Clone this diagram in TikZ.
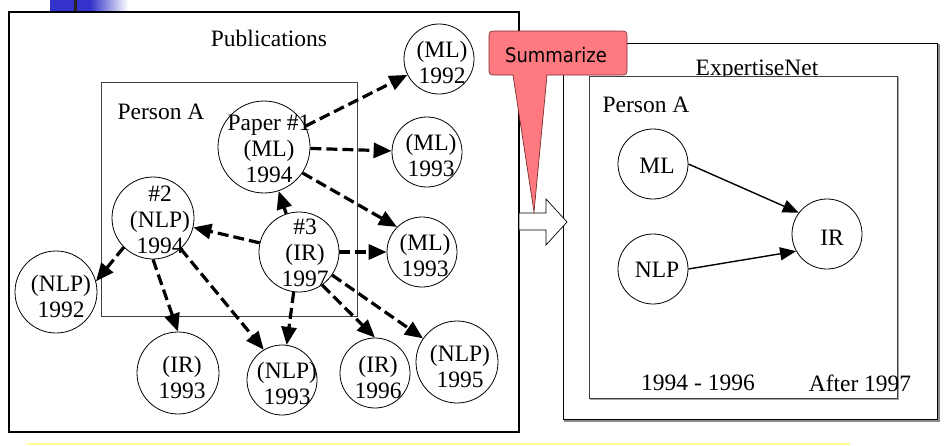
\documentclass[tikz,border=0pt]{standalone}
\usepackage{fontspec}
\setmainfont{Liberation Serif}
\newfontfamily\calloutfont[FakeStretch=0.9]{DejaVu Sans}
\usetikzlibrary{arrows.meta}

\definecolor{slideblue}{RGB}{51,51,204}
\definecolor{calloutred}{RGB}{255,122,128}
\definecolor{calloutedge}{RGB}{120,45,45}
\definecolor{noteyellow}{RGB}{255,255,150}

\tikzset{
  pub/.style={circle, draw, line width=0.8pt, inner sep=0pt},
  lbl/.style={align=center, inner sep=0pt, font=\fontsize{23.5}{26}\selectfont},
  cites/.style={line width=3.2pt, dash pattern=on 11pt off 5pt,
    -{Triangle[length=18pt,width=15pt]}},
  trend/.style={line width=1.4pt, -{Triangle[length=16pt,width=13pt]}},
  frame/.style={line width=0.8pt, draw=black!75},
}

\begin{document}
\begin{tikzpicture}[x=1pt,y=-1pt]
\useasboundingbox (0,0) rectangle (947,445);

% slide header ornament
\fill[slideblue] (50,0) rectangle (90,11);
\shade[left color=slideblue, right color=white] (90,0) rectangle (128,11);
\fill[black!85] (74,0) rectangle (77,12);

% publications panel
\draw[line width=2pt] (9,12) rectangle (519,432);
\node[lbl] (pubtitle) at (269,38) {Publications};
\draw[frame] (101,82) rectangle (357,316);
\node[lbl] (personl) at (161,112) {Person A};

% paper circles
\node[pub, minimum size=92pt] (p1) at (264,147) {};
\node[pub, minimum size=70pt] (m92) at (439,59) {};
\node[pub, minimum size=70pt] (m93a) at (427,152) {};
\node[pub, minimum size=70pt] (m93b) at (422,252) {};
\node[pub, minimum size=82pt] (p2) at (153,218) {};
\node[pub, minimum size=80pt] (p3) at (299,252) {};
\node[pub, minimum size=82pt] (n92) at (56,292) {};
\node[pub, minimum size=82pt] (ir93) at (178,373) {};
\node[pub, minimum size=70pt] (n93) at (282,380) {};
\node[pub, minimum size=70pt] (ir96) at (375,373) {};
\node[pub, minimum size=82pt] (n95) at (457,362) {};

\node[lbl] (p1t) at (269,149) {Paper \#1\\(ML)\\1994};
\node[lbl] (m92t) at (442,62) {(ML)\\1992};
\node[lbl] (m93at) at (431,155) {(ML)\\1993};
\node[lbl] (m93bt) at (425,255) {(ML)\\1993};
\node[lbl] (p2t) at (160,220) {\#2\\(NLP)\\1994};
\node[lbl] (p3t) at (305,253) {\#3\\(IR)\\1997};
\node[lbl] (n92t) at (61,296) {(NLP)\\1992};
\node[lbl] (ir93t) at (182,377) {(IR)\\1993};
\node[lbl] (n93t) at (287,383) {(NLP)\\1993};
\node[lbl] (ir96t) at (378,377) {(IR)\\1996};
\node[lbl] (n95t) at (460,366) {(NLP)\\1995};

% citation links
\draw[cites] (p1) -- (m92);
\draw[cites] (p1) -- (m93a);
\draw[cites] (p1.-34) -- (m93b.135);
\draw[cites] (p3) -- (p1);
\draw[cites] (p3) -- (p2);
\draw[cites] (p3) -- (m93b);
\draw[cites] (p3) -- (n93);
\draw[cites] (p3.-55) -- (ir96.north);
\draw[cites] (p3) -- (n95);
\draw[cites] (p2.-135) -- (n92.15);
\draw[cites] (p2.south) -- (ir93.north);
\draw[cites] (p2.-48) -- (n93.121);

% expertise panel
\draw[black!45, line width=1.2pt] (565,45) rectangle (939,421);
\draw[fill=white, line width=0.9pt] (563,43) rectangle (937,419);
\node[lbl, anchor=base] (nettitle) at (757,75) {ExpertiseNet};
\draw[black!35, line width=1pt] (590.5,77.5) rectangle (898.5,399.5);
\draw[frame, fill=white] (589,76) rectangle (897,398);
\node[lbl] (personr) at (646,105) {Person A};

\node[pub, minimum size=70pt] (ml) at (653,164) {};
\node[pub, minimum size=70pt] (nlp) at (653,269) {};
\node[pub, minimum size=70pt] (ir) at (827,234) {};
\node[lbl] (mlt) at (657,166) {ML};
\node[lbl] (nlpt) at (657,270) {NLP};
\node[lbl] (irt) at (832,238) {IR};

\draw[trend] (ml.east) -- (ir.143);
\draw[trend] (nlp.east) -- (ir.209);

\node[lbl] (early) at (698,383) {1994 - 1996};
\node[lbl] (late) at (860,383) {After 1997};

% block arrow between the panels
\draw[fill=white, line width=0.7pt] (519,213) -- (546,213) -- (546,199) -- (567,222)
  -- (546,245) -- (546,230) -- (519,230) -- cycle;

% callout
\draw[fill=calloutred, draw=calloutedge, line width=0.7pt]
  (497,31) -- (619,31) .. controls (627,31) .. (627,39) -- (627,67)
  .. controls (627,75) .. (619,75) -- (547,75) -- (534,212) -- (513,75)
  -- (497,75) .. controls (489,75) .. (489,67) -- (489,39)
  .. controls (489,31) .. (497,31) -- cycle;
\node[inner sep=0pt, font=\calloutfont\fontsize{20}{22}\selectfont] (summ) at (556,55) {Summarize};

% note bar
\draw[noteyellow, line width=1.5pt] (27,444) -- (850,444);
\end{tikzpicture}
\end{document}
